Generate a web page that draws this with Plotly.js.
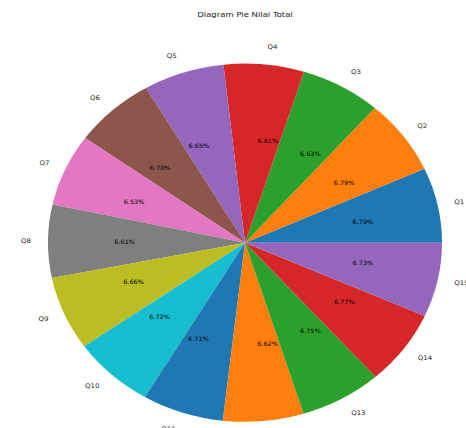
<!DOCTYPE html>
<html>
<head>
<meta charset="utf-8">
<script src="https://cdn.plot.ly/plotly-3.0.1.min.js"></script>
<style>
html,body{margin:0;padding:0;width:466px;height:428px;overflow:hidden;background:#fff;}
#wrap{width:466px;height:500px;transform:scaleY(0.909);transform-origin:0 0;}
#chart{width:466px;height:500px;}
</style>
</head>
<body>
<div id="wrap"><div id="chart"></div></div>
<script>
const labels = ["Q1","Q2","Q3","Q4","Q5","Q6","Q7","Q8","Q9","Q10","Q11","Q12","Q13","Q14","Q15"];
const percents = [6.79,6.79,6.63,6.61,6.65,6.70,6.53,6.61,6.66,6.72,6.71,6.62,6.75,6.77,6.73];
const colors = ["#1f77b4","#ff7f0e","#2ca02c","#d62728","#9467bd","#8c564b","#e377c2","#7f7f7f","#bcbd22","#17becf","#1f77b4","#ff7f0e","#2ca02c","#d62728","#9467bd"];
const title = "Diagram Pie Nilai Total";

const W = 466, H = 500, cx = 245, cy = 267, r = 197, rl = 212, rp = 108;
const dom = (rad) => ({
  x: [(cx - rad) / W, (cx + rad) / W],
  y: [(H - (cy + rad)) / H, (H - (cy - rad)) / H]
});
// first slice starts at 3 o'clock, counterclockwise (Plotly offsets ccw pies by the first slice)
const total = percents.reduce((a, b) => a + b, 0);
const rot = 90 - 360 * percents[0] / total;
const clear = labels.map(() => "rgba(0,0,0,0)");

const base = {
  type: "pie", labels: labels, values: percents, sort: false,
  direction: "counterclockwise", rotation: rot,
  showlegend: false, hoverinfo: "none"
};
const pie = Object.assign({}, base, {
  marker: {colors: colors, line: {width: 0}},
  textinfo: "none", domain: dom(r)
});
const pct = Object.assign({}, base, {
  marker: {colors: clear, line: {width: 0}},
  texttemplate: "%{value:.2f}%", textposition: "outside",
  outsidetextfont: {family: "DejaVu Sans", size: 6.5, color: "#000"},
  domain: dom(rp)
});
const lab = Object.assign({}, base, {
  marker: {colors: clear, line: {width: 0}},
  texttemplate: "%{label}", textposition: "outside",
  outsidetextfont: {family: "DejaVu Sans", size: 7, color: "#222"},
  domain: dom(rl)
});
Plotly.newPlot("chart", [lab, pie, pct], {
  width: W, height: H,
  margin: {l: 0, r: 0, t: 0, b: 0},
  paper_bgcolor: "#fff",
  title: {text: title, x: cx / W, xanchor: "center", y: 1 - 15.4 / H, yanchor: "middle",
          font: {family: "DejaVu Sans", size: 8.5, color: "#222"}}
}, {staticPlot: true});
</script>
</body>
</html>
